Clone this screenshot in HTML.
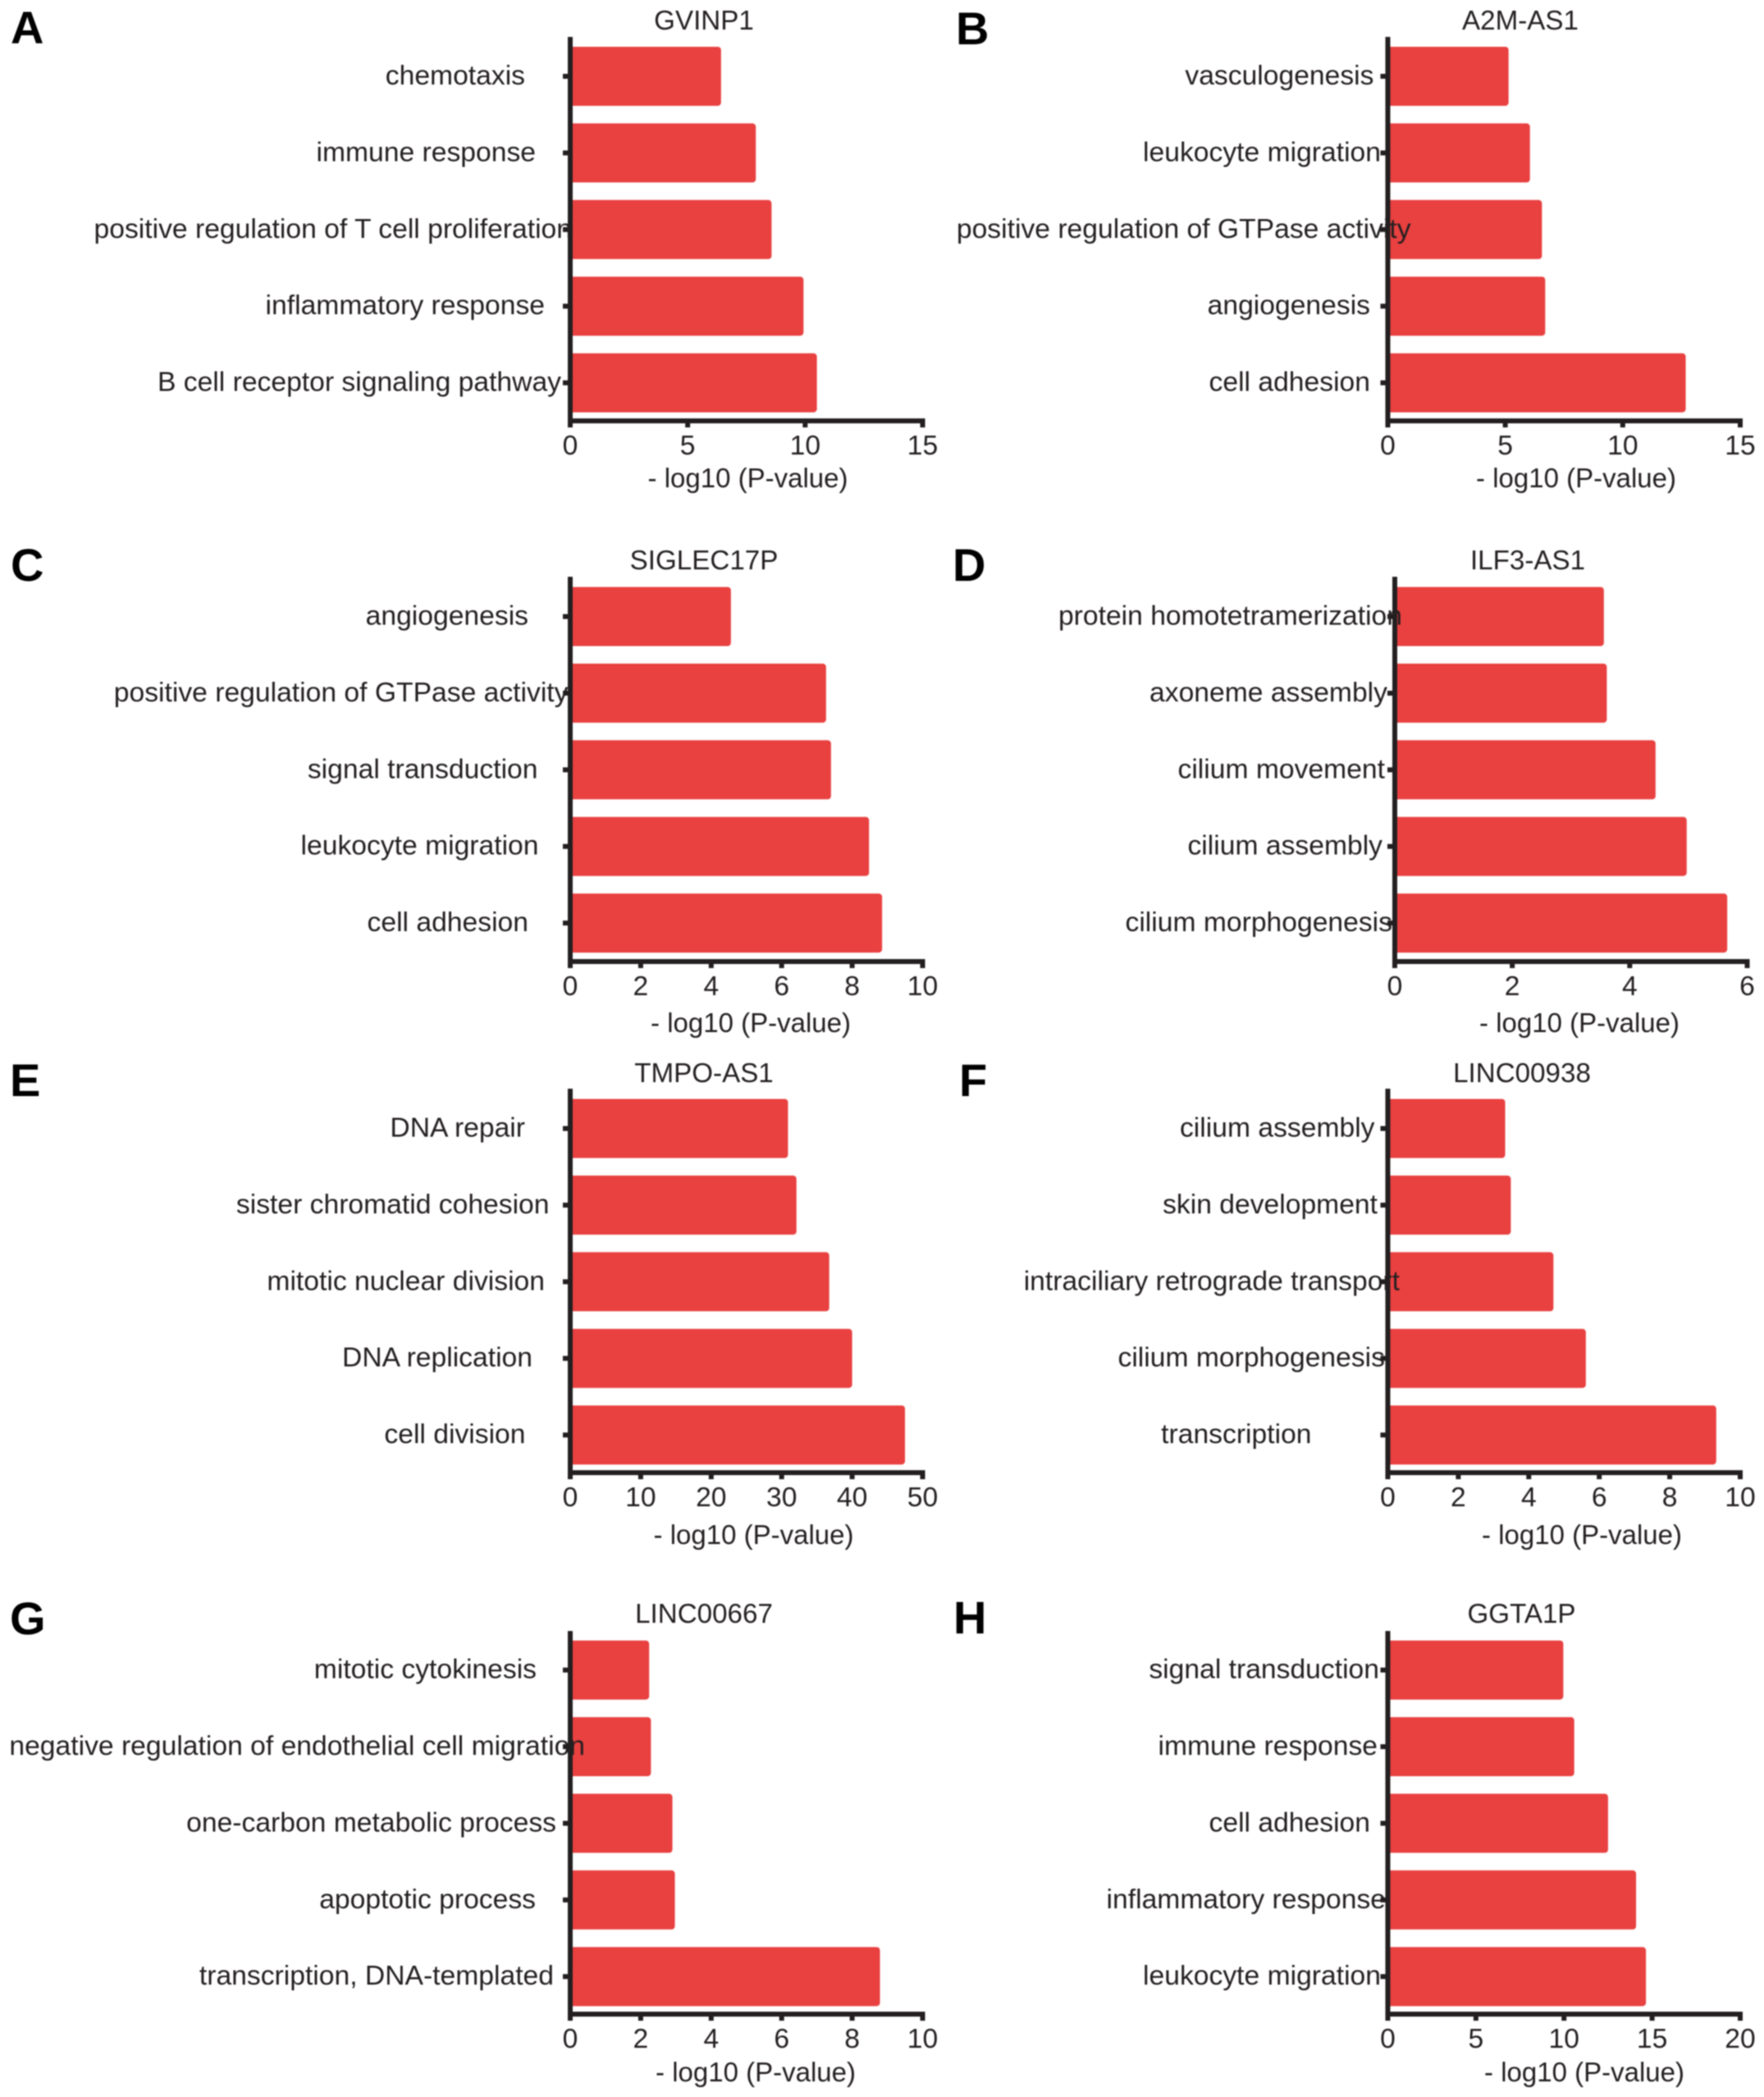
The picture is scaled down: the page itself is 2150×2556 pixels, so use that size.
<!DOCTYPE html>
<html lang="en">
<head>
<meta charset="utf-8">
<title>GO enrichment of lncRNAs</title>
<style>
  html, body { margin: 0; padding: 0; background: #fff; }
  svg { display: block; filter: blur(0.7px); }
  text { font-family: "Liberation Sans", Arial, sans-serif; fill: #231f20; }
  .letter { font-size: 56px; font-weight: bold; fill: #000; }
  .title, .xtitle, .tick-label { text-anchor: middle; }
  .title, .xtitle, .tick-label, .cat-label { font-size: 33px; }
  .cat-label { text-anchor: end; }
</style>
</head>
<body>
<svg id="figure" xmlns="http://www.w3.org/2000/svg" width="2150" height="2556" viewBox="0 0 2150 2556">
  <rect width="2150" height="2556" fill="#fff"/>

  <g id="panel-a">
    <text class="letter" x="13" y="53">A</text>
    <text class="title" transform="translate(858 36) scale(1.005 1)">GVINP1</text>
    <text class="xtitle" transform="translate(911.5 594) scale(1 1)">- log10 (P-value)</text>
  </g>
  <g id="panel-b">
    <text class="letter" x="1165" y="54">B</text>
    <text class="title" transform="translate(1853 36) scale(1.005 1)">A2M-AS1</text>
    <text class="xtitle" transform="translate(1921 594) scale(1 1)">- log10 (P-value)</text>
  </g>
  <g id="panel-c">
    <text class="letter" x="13" y="708">C</text>
    <text class="title" transform="translate(858 694) scale(1.005 1)">SIGLEC17P</text>
    <text class="xtitle" transform="translate(915 1258) scale(1 1)">- log10 (P-value)</text>
  </g>
  <g id="panel-d">
    <text class="letter" x="1161" y="708">D</text>
    <text class="title" transform="translate(1862 694) scale(1.005 1)">ILF3-AS1</text>
    <text class="xtitle" transform="translate(1925 1258) scale(1 1)">- log10 (P-value)</text>
  </g>
  <g id="panel-e">
    <text class="letter" x="12" y="1336">E</text>
    <text class="title" transform="translate(858 1319) scale(1.005 1)">TMPO-AS1</text>
    <text class="xtitle" transform="translate(918.5 1882) scale(1 1)">- log10 (P-value)</text>
  </g>
  <g id="panel-f">
    <text class="letter" x="1169" y="1336">F</text>
    <text class="title" transform="translate(1855 1319) scale(1.005 1)">LINC00938</text>
    <text class="xtitle" transform="translate(1928 1882) scale(1 1)">- log10 (P-value)</text>
  </g>
  <g id="panel-g">
    <text class="letter" x="12" y="1992">G</text>
    <text class="title" transform="translate(858 1978) scale(1.005 1)">LINC00667</text>
    <text class="xtitle" transform="translate(921 2537) scale(1 1)">- log10 (P-value)</text>
  </g>
  <g id="panel-h">
    <text class="letter" x="1162" y="1991">H</text>
    <text class="title" transform="translate(1854.5 1978) scale(1.005 1)">GGTA1P</text>
    <text class="xtitle" transform="translate(1931 2537) scale(1 1)">- log10 (P-value)</text>
  </g>
</svg>

<script>
// ---- chart data ----
const categoriesA = ["chemotaxis", "immune response", "positive regulation of T cell proliferation", "inflammatory response", "B cell receptor signaling pathway"];
const valuesA = [6.42, 7.9, 8.57, 9.93, 10.5];
const ticksA = [0, 5, 10, 15];

const categoriesB = ["vasculogenesis", "leukocyte migration", "positive regulation of GTPase activity", "angiogenesis", "cell adhesion"];
const valuesB = [5.14, 6.05, 6.56, 6.7, 12.68];
const ticksB = [0, 5, 10, 15];

const categoriesC = ["angiogenesis", "positive regulation of GTPase activity", "signal transduction", "leukocyte migration", "cell adhesion"];
const valuesC = [4.56, 7.26, 7.4, 8.48, 8.85];
const ticksC = [0, 2, 4, 6, 8, 10];

const categoriesD = ["protein homotetramerization", "axoneme assembly", "cilium movement", "cilium assembly", "cilium morphogenesis"];
const valuesD = [3.56, 3.61, 4.44, 4.97, 5.66];
const ticksD = [0, 2, 4, 6];

const categoriesE = ["DNA repair", "sister chromatid cohesion", "mitotic nuclear division", "DNA replication", "cell division"];
const valuesE = [30.9, 32.1, 36.75, 40, 47.5];
const ticksE = [0, 10, 20, 30, 40, 50];

const categoriesF = ["cilium assembly", "skin development", "intraciliary retrograde transport", "cilium morphogenesis", "transcription"];
const valuesF = [3.33, 3.49, 4.7, 5.62, 9.32];
const ticksF = [0, 2, 4, 6, 8, 10];

const categoriesG = ["mitotic cytokinesis", "negative regulation of endothelial cell migration", "one-carbon metabolic process", "apoptotic process", "transcription, DNA-templated"];
const valuesG = [2.24, 2.29, 2.9, 2.97, 8.79];
const ticksG = [0, 2, 4, 6, 8, 10];

const categoriesH = ["signal transduction", "immune response", "cell adhesion", "inflammatory response", "leukocyte migration"];
const valuesH = [9.96, 10.58, 12.5, 14.09, 14.65];
const ticksH = [0, 5, 10, 15, 20];

// ---- layout only (pixels): plot frame and hand-placed category label ends ----
const BAR_COLOR = "#e94040";
const AXIS_COLOR = "#231f20";
const AXIS_WIDTH = 6;
const AXIS_LENGTH = 429.5;
const BAR_PITCH = 93.4;
const BAR_HEIGHT = 72;
const SVG_NS = "http://www.w3.org/2000/svg";

const panels = [
  { id: "a", categories: categoriesA, values: valuesA, ticks: ticksA, x0: 695,    top: 45,   barTop: 57,   axisY: 513,  labelEnds: [640, 653, 697, 664, 684] },
  { id: "b", categories: categoriesB, values: valuesB, ticks: ticksB, x0: 1691.5, top: 45,   barTop: 57,   axisY: 513,  labelEnds: [1674.5, 1683, 1719.6, 1670, 1670] },
  { id: "c", categories: categoriesC, values: valuesC, ticks: ticksC, x0: 695,    top: 703,  barTop: 715.5, axisY: 1172, labelEnds: [644, 692.5, 655.5, 656.5, 644] },
  { id: "d", categories: categoriesD, values: valuesD, ticks: ticksD, x0: 1700,   top: 703,  barTop: 715.5, axisY: 1172, labelEnds: [1709, 1691, 1688, 1685, 1697] },
  { id: "e", categories: categoriesE, values: valuesE, ticks: ticksE, x0: 695,    top: 1327, barTop: 1339.5, axisY: 1795, labelEnds: [640, 669.5, 664, 649, 640.5] },
  { id: "f", categories: categoriesF, values: valuesF, ticks: ticksF, x0: 1691.5, top: 1327, barTop: 1339.5, axisY: 1795, labelEnds: [1675.5, 1679, 1706, 1688, 1598.5] },
  { id: "g", categories: categoriesG, values: valuesG, ticks: ticksG, x0: 695,    top: 1988, barTop: 1999.6, axisY: 2455, labelEnds: [654, 713, 678, 653, 675] },
  { id: "h", categories: categoriesH, values: valuesH, ticks: ticksH, x0: 1691.5, top: 1988, barTop: 1999.6, axisY: 2455, labelEnds: [1681, 1679, 1670, 1689, 1683] }
];

function slug(s) {
  return String(s).toLowerCase().replace(/[^a-z0-9]+/g, "-").replace(/^-|-$/g, "");
}

function shape(parent, tag, geometry) {
  const node = document.createElementNS(SVG_NS, tag);
  for (const key in geometry) node.setAttribute(key, geometry[key]);
  parent.appendChild(node);
  return node;
}

function drawPanel(p) {
  const group = document.getElementById("panel-" + p.id);
  const maxValue = p.ticks[p.ticks.length - 1];
  const xScale = function (v) { return p.x0 + (v / maxValue) * AXIS_LENGTH; };
  const barY = function (i) { return p.barTop + i * BAR_PITCH; };
  const half = AXIS_WIDTH / 2;

  // bars
  p.values.forEach(function (v, i) {
    const el = shape(group, "rect", { x: p.x0 - 2, y: barY(i), width: xScale(v) - p.x0 + 2, height: BAR_HEIGHT, rx: 4, ry: 4, fill: BAR_COLOR });
    
    
  });

  // category labels
  p.categories.forEach(function (c, i) {
    const el = shape(group, "text", { "class": "cat-label", transform: "translate(" + p.labelEnds[i] + " " + (barY(i) + BAR_HEIGHT / 2 + 10) + ") scale(1.02 1)" });
    el.textContent = c;
    
    
  });

  // y axis line
  const yAxis = shape(group, "rect", { x: p.x0 - half, y: p.top, width: AXIS_WIDTH, height: p.axisY + 8 - p.top, fill: AXIS_COLOR });
  
  

  // y ticks
  p.categories.forEach(function (c, i) {
    const el = shape(group, "rect", { x: p.x0 - half - 6, y: barY(i) + BAR_HEIGHT / 2 - 3, width: 6, height: 6, fill: AXIS_COLOR });
    
    
  });

  // x axis line
  const xAxis = shape(group, "rect", { x: p.x0 - half, y: p.axisY - half, width: AXIS_LENGTH + AXIS_WIDTH, height: AXIS_WIDTH, fill: AXIS_COLOR });
  
  

  // x ticks and labels
  p.ticks.forEach(function (t) {
    const mark = shape(group, "rect", { x: xScale(t) - half, y: p.axisY, width: AXIS_WIDTH, height: 8, fill: AXIS_COLOR });
    
    

    const label = shape(group, "text", { "class": "tick-label", transform: "translate(" + xScale(t) + " " + (p.axisY + 41) + ") scale(1.02 1)" });
    label.textContent = t;
    
    
  });
}

panels.forEach(drawPanel);
</script>
</body>
</html>
